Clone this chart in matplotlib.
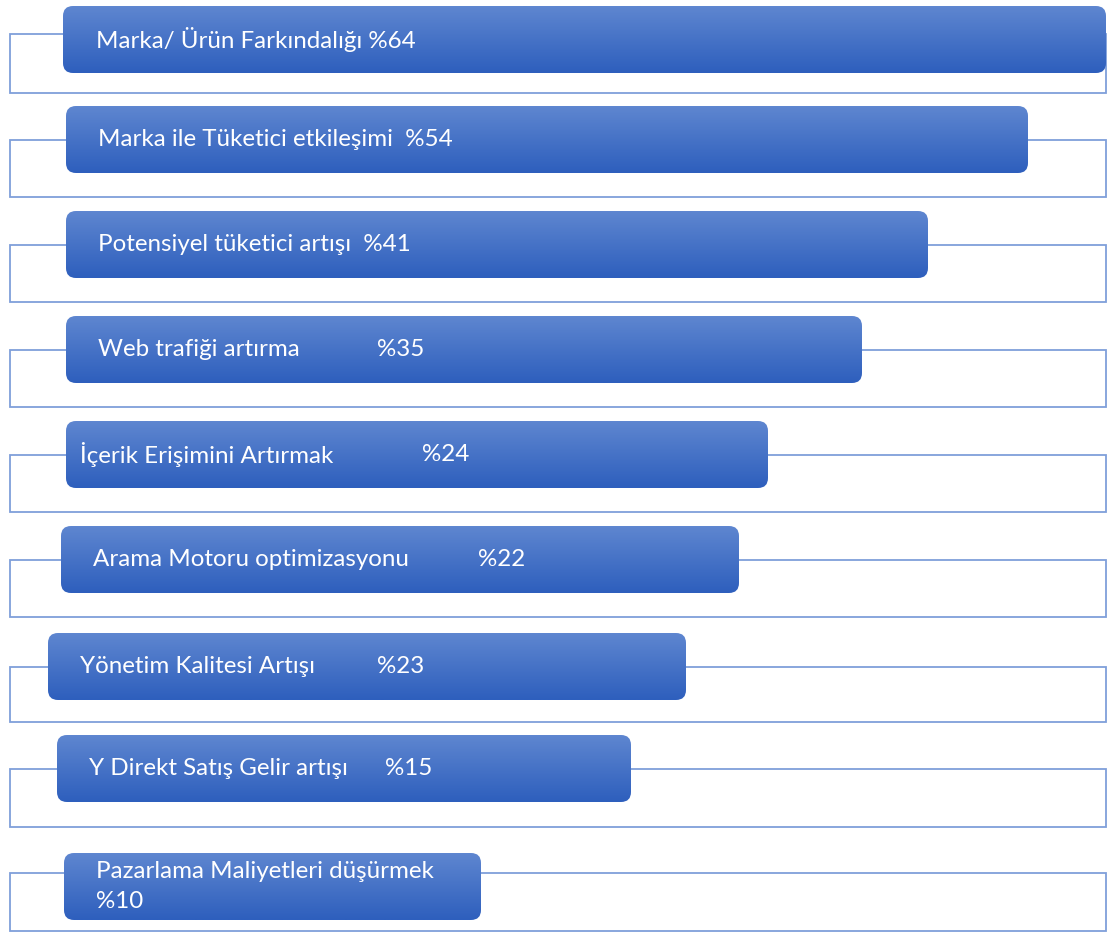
import numpy as np
import matplotlib.pyplot as plt
from matplotlib.patches import FancyBboxPatch, Rectangle

plt.rcParams['font.family'] = ['Lato', 'DejaVu Sans']

# labels and percentages as shown in the diagram
labels = ['Marka/ Ürün Farkındalığı', 'Marka ile Tüketici etkileşimi ', 'Potensiyel tüketici artışı ',
          'Web trafiği artırma', 'İçerik Erişimini Artırmak', 'Arama Motoru optimizasyonu',
          'Yönetim Kalitesi Artışı', 'Y Direkt Satış Gelir artışı', 'Pazarlama Maliyetleri düşürmek']
percents = ['%64', '%54', '%41', '%35', '%24', '%22', '%23', '%15', '%10']

# box extents (pixel units)
box_left = [63, 66, 66, 66, 66, 61, 48, 57, 64]
box_right = [1106, 1028, 928, 862, 768, 739, 686, 631, 481]
box_top = [6, 106, 211, 316, 421, 526, 633, 735, 853]
rect_top = [34, 140, 245, 350, 455, 560, 667, 769, 873]
rect_bottom = [93, 197, 302, 407, 512, 617, 722, 827, 931]
text_x = [96, 98, 98, 98, 80, 93, 80, 89, 96]
pct_x = [None, None, None, 377, 422, 478, 377, 385, None]

fig = plt.figure(figsize=(11.18, 9.33), dpi=100)
ax = fig.add_axes([0, 0, 1, 1])
ax.set_xlim(0, 1118)
ax.set_ylim(933, 0)
ax.axis('off')

edge = '#7F9FDA'
fs = 17.4
grad = np.linspace(0, 1, 64).reshape(-1, 1)
top_c = np.array([0x5E, 0x86, 0xD0]) / 255
bot_c = np.array([0x2E, 0x5F, 0xBD]) / 255
img = top_c + (bot_c - top_c) * grad[..., None]
img = img.reshape(64, 1, 3)

box_h = 67
for i in range(len(labels)):
    ax.add_patch(Rectangle((10, rect_top[i]), 1096, rect_bottom[i] - rect_top[i],
                           facecolor='white', edgecolor=edge, lw=1.3, zorder=1))
    x0, x1, y0 = box_left[i], box_right[i], box_top[i]
    r = 10
    p = FancyBboxPatch((x0 + r, y0 + r), x1 - x0 - 2 * r, box_h - 2 * r,
                       boxstyle='round,pad=%d' % r, facecolor='none', edgecolor='none', zorder=2)
    ax.add_patch(p)
    im = ax.imshow(img, extent=(x0, x1, y0 + box_h, y0), aspect='auto', zorder=2,
                   interpolation='bilinear')
    im.set_clip_path(p)
    yc = y0 + box_h / 2
    if i == len(labels) - 1:
        ax.text(text_x[i], yc - 15, labels[i], color='white', fontsize=fs, va='center', zorder=3)
        ax.text(text_x[i], yc + 15, percents[i], color='white', fontsize=fs, va='center', zorder=3)
    elif pct_x[i] is None:
        ax.text(text_x[i], yc, labels[i] + ' ' + percents[i], color='white', fontsize=fs,
                va='center', zorder=3)
    else:
        ax.text(text_x[i], yc, labels[i], color='white', fontsize=fs, va='center', zorder=3)
        ax.text(pct_x[i], yc, percents[i], color='white', fontsize=fs, va='center', zorder=3)

ax.set_xlim(0, 1118)
ax.set_ylim(933, 0)
fig.savefig('out.png', dpi=100)
